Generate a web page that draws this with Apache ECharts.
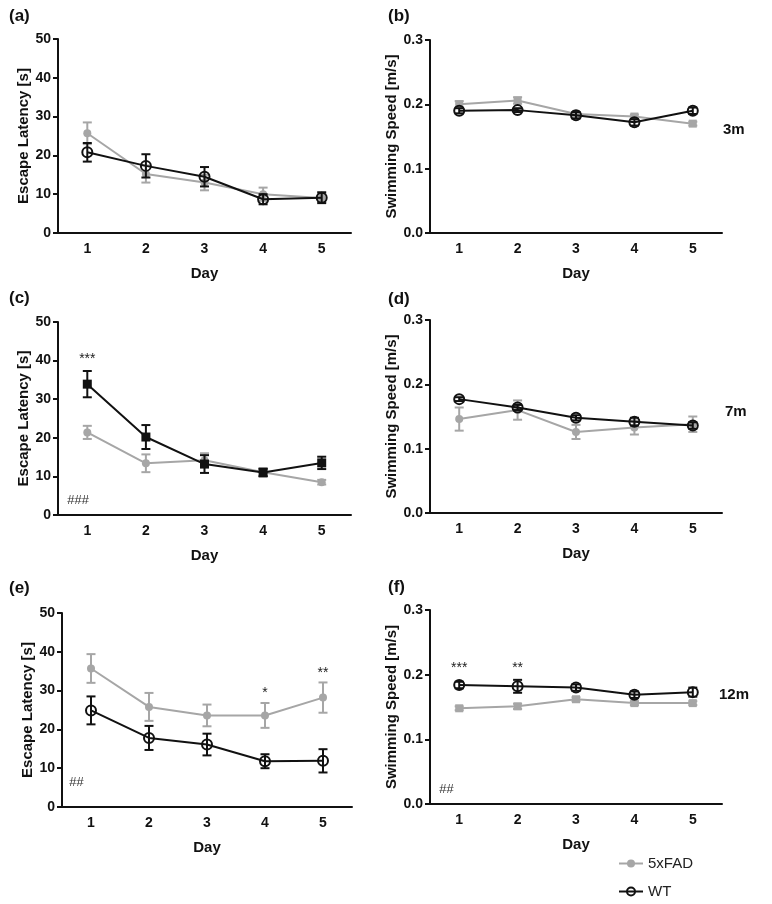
<!DOCTYPE html>
<html>
<head>
<meta charset="utf-8">
<script src="https://cdn.jsdelivr.net/npm/echarts@6/dist/echarts.min.js"></script>
<style>
html,body{margin:0;padding:0;background:#fff;}
#chart{width:772px;height:904px;}
</style>
</head>
<body>
<div id="chart"></div>
<script>
// ---------- data ----------
const days = ['1', '2', '3', '4', '5'];
const latencyTicks = [0, 10, 20, 30, 40, 50];
const speedTicks = [0.0, 0.1, 0.2, 0.3];

// (a) 3m escape latency
const a_fad_mean = [25.7, 15.2, 13.0, 10.0, 9.0];
const a_fad_sem  = [2.8, 2.2, 2.0, 1.7, 1.0];
const a_wt_mean  = [20.8, 17.3, 14.5, 8.7, 9.1];
const a_wt_sem   = [2.4, 3.0, 2.5, 1.3, 1.4];
// (b) 3m swimming speed
const b_fad_mean = [0.200, 0.206, 0.185, 0.181, 0.170];
const b_fad_sem  = [0.005, 0.005, 0.003, 0.003, 0.003];
const b_wt_mean  = [0.190, 0.191, 0.183, 0.172, 0.190];
const b_wt_sem   = [0.004, 0.003, 0.005, 0.005, 0.005];
// (c) 7m escape latency
const c_fad_mean = [21.4, 13.4, 14.2, 11.1, 8.5];
const c_fad_sem  = [1.7, 2.3, 1.8, 1.0, 0.6];
const c_wt_mean  = [33.9, 20.2, 13.2, 11.0, 13.5];
const c_wt_sem   = [3.4, 3.1, 2.3, 1.0, 1.6];
// (d) 7m swimming speed
const d_fad_mean = [0.146, 0.160, 0.126, 0.133, 0.138];
const d_fad_sem  = [0.018, 0.015, 0.011, 0.011, 0.012];
const d_wt_mean  = [0.177, 0.164, 0.148, 0.142, 0.136];
const d_wt_sem   = [0.003, 0.004, 0.004, 0.006, 0.005];
// (e) 12m escape latency
const e_fad_mean = [35.7, 25.8, 23.6, 23.6, 28.2];
const e_fad_sem  = [3.7, 3.6, 2.8, 3.2, 3.9];
const e_wt_mean  = [24.9, 17.8, 16.1, 11.8, 11.9];
const e_wt_sem   = [3.6, 3.1, 2.8, 1.8, 3.0];
// (f) 12m swimming speed
const f_fad_mean = [0.148, 0.151, 0.162, 0.156, 0.156];
const f_fad_sem  = [0.003, 0.004, 0.003, 0.003, 0.003];
const f_wt_mean  = [0.184, 0.182, 0.180, 0.169, 0.173];
const f_wt_sem   = [0.005, 0.010, 0.005, 0.005, 0.007];

// significance annotations: [day index, y value, text]
const c_sig = [[0, 40.3, '***']];
const e_sig = [[3, 29.3, '*'], [4, 34.6, '**']];
const f_sig = [[0, 0.21, '***'], [1, 0.21, '**']];

// ---------- layout / style ----------
const FONT = '"Liberation Sans", Arial, sans-serif';
const GRAY = '#a6a6a6';
const BLACK = '#111111';

const panels = [
  {grid:{left:58, top:39, width:293, height:194}, kind:'lat', fad:[a_fad_mean,a_fad_sem], wt:[a_wt_mean,a_wt_sem], fadSym:'circle', wtSym:'circle', wtFill:false, sig:[]},
  {grid:{left:430, top:40, width:292, height:193}, kind:'spd', fad:[b_fad_mean,b_fad_sem], wt:[b_wt_mean,b_wt_sem], fadSym:'rect', wtSym:'circle', wtFill:false, sig:[]},
  {grid:{left:58, top:322, width:293, height:193}, kind:'lat', fad:[c_fad_mean,c_fad_sem], wt:[c_wt_mean,c_wt_sem], fadSym:'circle', wtSym:'rect', wtFill:true, sig:c_sig},
  {grid:{left:430, top:320, width:292, height:193}, kind:'spd', fad:[d_fad_mean,d_fad_sem], wt:[d_wt_mean,d_wt_sem], fadSym:'circle', wtSym:'circle', wtFill:false, sig:[]},
  {grid:{left:62, top:613, width:290, height:194}, kind:'lat', fad:[e_fad_mean,e_fad_sem], wt:[e_wt_mean,e_wt_sem], fadSym:'circle', wtSym:'circle', wtFill:false, sig:e_sig},
  {grid:{left:430, top:610, width:292, height:194}, kind:'spd', fad:[f_fad_mean,f_fad_sem], wt:[f_wt_mean,f_wt_sem], fadSym:'rect', wtSym:'circle', wtFill:false, sig:f_sig}
];

const grids = [], xAxes = [], yAxes = [], series = [];

function errSeries(i, mean, sem, color, z) {
  return {
    type: 'custom', xAxisIndex: i, yAxisIndex: i, z: z, silent: true,
    encode: {x: 0, y: 1},
    data: mean.map((m, k) => [k, m, sem[k]]),
    renderItem: function (params, api) {
      const idx = api.value(0), m = api.value(1), s = api.value(2);
      const hi = api.coord([idx, m + s]);
      const lo = api.coord([idx, m - s]);
      const hw = 4.5;
      const st = {stroke: color, lineWidth: 2};
      return {type: 'group', children: [
        {type: 'line', shape: {x1: hi[0], y1: hi[1], x2: lo[0], y2: lo[1]}, style: st},
        {type: 'line', shape: {x1: hi[0]-hw, y1: hi[1], x2: hi[0]+hw, y2: hi[1]}, style: st},
        {type: 'line', shape: {x1: lo[0]-hw, y1: lo[1], x2: lo[0]+hw, y2: lo[1]}, style: st}
      ]};
    }
  };
}

panels.forEach((p, i) => {
  grids.push(Object.assign({containLabel: false}, p.grid));
  xAxes.push({
    type: 'category', gridIndex: i, data: days, boundaryGap: true,
    name: 'Day', nameLocation: 'middle', nameGap: 33,
    nameTextStyle: {fontFamily: FONT, fontWeight: 'bold', fontSize: 15, color: BLACK},
    axisLine: {lineStyle: {color: BLACK, width: 2}},
    axisTick: {alignWithLabel: true, length: 5, lineStyle: {color: BLACK, width: 2}},
    axisLabel: {fontFamily: FONT, fontWeight: 'bold', fontSize: 14, color: BLACK, margin: 9},
    splitLine: {show: false}
  });
  const lat = p.kind === 'lat';
  const ticks = lat ? latencyTicks : speedTicks;
  yAxes.push({
    type: 'value', gridIndex: i,
    min: ticks[0], max: ticks[ticks.length-1], interval: ticks[1]-ticks[0],
    name: lat ? 'Escape Latency [s]' : 'Swimming Speed [m/s]',
    nameLocation: 'middle', nameGap: lat ? 27 : 27,
    nameTextStyle: {fontFamily: FONT, fontWeight: 'bold', fontSize: 15, color: BLACK},
    axisLine: {show: true, lineStyle: {color: BLACK, width: 2}},
    axisTick: {show: true, length: 5, lineStyle: {color: BLACK, width: 2}},
    axisLabel: {fontFamily: FONT, fontWeight: 'bold', fontSize: 14, color: BLACK, margin: 7,
      formatter: v => lat ? String(v) : v.toFixed(1)},
    splitLine: {show: false}
  });
  // 5xFAD
  series.push({
    name: '5xFAD', type: 'line', xAxisIndex: i, yAxisIndex: i, z: 2,
    data: p.fad[0], symbol: p.fadSym, symbolSize: 8,
    lineStyle: {color: GRAY, width: 2},
    itemStyle: {color: GRAY, borderWidth: 0},
    emphasis: {disabled: true}
  });
  series.push(errSeries(i, p.fad[0], p.fad[1], GRAY, 2));
  // WT
  series.push({
    name: 'WT', type: 'line', xAxisIndex: i, yAxisIndex: i, z: 3,
    data: p.wt[0], symbol: p.wtSym, symbolSize: p.wtFill ? 9 : 10,
    lineStyle: {color: BLACK, width: 2},
    itemStyle: p.wtFill ? {color: BLACK, borderWidth: 0} : {color: 'rgba(255,255,255,0)', borderColor: BLACK, borderWidth: 2},
    emphasis: {disabled: true}
  });
  series.push(errSeries(i, p.wt[0], p.wt[1], BLACK, 3));
  if (p.sig.length) {
    series.push({
      type: 'custom', xAxisIndex: i, yAxisIndex: i, z: 4, silent: true,
      encode: {x: 0, y: 1},
      data: p.sig,
      renderItem: function (params, api) {
        const pt = api.coord([api.value(0), api.value(1)]);
        return {type: 'text', x: pt[0], y: pt[1],
          style: {text: p.sig[params.dataIndex][2], fill: '#222', font: '14px ' + FONT,
            textAlign: 'center', textVerticalAlign: 'middle'}};
      }
    });
  }
});

const txt = (x, y, t, size, weight, extra) => Object.assign({
  type: 'text', left: x, top: y,
  style: {text: t, font: (weight || 'bold') + ' ' + size + 'px ' + FONT, fill: BLACK}
}, extra || {});

const graphics = [
  txt(9, 8, '(a)', 17), txt(388, 8, '(b)', 17),
  txt(9, 290, '(c)', 17), txt(388, 291, '(d)', 17),
  txt(9, 580, '(e)', 17), txt(388, 579, '(f)', 17),
  txt(723, 122, '3m', 15), txt(725, 404, '7m', 15), txt(719, 687, '12m', 15),
  txt(67, 494, '###', 13, 'normal', {style: {text: '###', font: 'italic 13px ' + FONT, fill: '#333'}}),
  txt(69, 776, '##', 13, 'normal', {style: {text: '##', font: 'italic 13px ' + FONT, fill: '#333'}}),
  txt(439, 783, '##', 13, 'normal', {style: {text: '##', font: 'italic 13px ' + FONT, fill: '#333'}})
];

const chart = echarts.init(document.getElementById('chart'), null, {renderer: 'canvas'});
chart.setOption({
  animation: false,
  backgroundColor: '#fff',
  grid: grids, xAxis: xAxes, yAxis: yAxes, series: series,
  graphic: graphics,
  legend: {
    data: ['5xFAD', 'WT'], orient: 'vertical', left: 613, top: 851,
    itemGap: 13, itemWidth: 24, itemHeight: 10,
    textStyle: {fontFamily: FONT, fontSize: 15, color: '#222'},
    selectedMode: false
  }
});
</script>
</body>
</html>
